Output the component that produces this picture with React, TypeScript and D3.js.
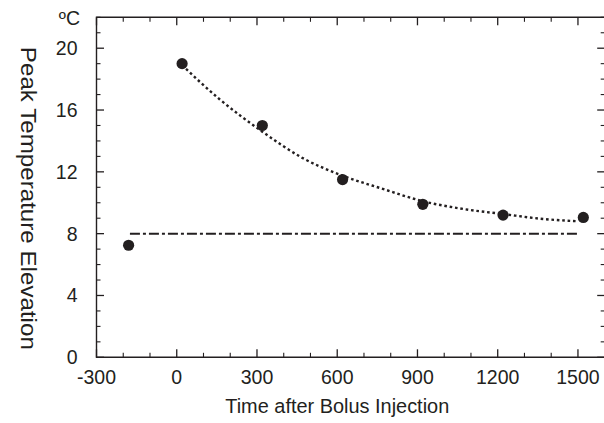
import React from "react";
import * as d3 from "d3";

const times = [-180, 20, 320, 620, 920, 1220, 1520];
const temps = [7.25, 19.0, 15.0, 11.5, 9.9, 9.2, 9.05];

const fitTimes = [20, 160, 320, 470, 620, 770, 920, 1070, 1220, 1370, 1500];
const fitTemps = [18.9, 16.7, 14.6, 12.9, 11.75, 10.9, 10.1, 9.6, 9.27, 8.95, 8.8];

const baselineTimes = [-175, 1500];
const baselineTemps = [8, 8];

const xTickValues = [-300, 0, 300, 600, 900, 1200, 1500];
const yTickValues = [0, 4, 8, 12, 16, 20];

const W = 604;
const H = 423;
const FONT = "'Liberation Sans', Arial, sans-serif";
const INK = "#231f20";

export default function App() {
  const x = d3.scaleLinear().domain([-300, 1600]).range([96.5, 604.7]);
  const y = d3.scaleLinear().domain([0, 22]).range([357.3, 17.3]);

  const xMinor = d3.range(-300, 1601, 100).filter((v) => !xTickValues.includes(v));
  const yMinor = d3.range(0, 23, 1).filter((v) => v % 4 !== 0);
  const yMajor = d3.range(0, 23, 4);

  const line = d3
    .line<number>()
    .x((_, i) => x(fitTimes[i]))
    .y((d) => y(d))
    .curve(d3.curveMonotoneX);

  const baseLine = d3
    .line<number>()
    .x((_, i) => x(baselineTimes[i]))
    .y((d) => y(d));

  const x0 = x.range()[0];
  const x1 = x.range()[1];
  const y0 = y.range()[0];
  const y1 = y.range()[1];

  return (
    <svg
      width={W}
      height={H}
      style={{ position: "absolute", left: 0, top: 0, background: "#fff" }}
    >
      {/* frame */}
      <path
        d={`M${x1 + 2},${y1}H${x0}V${y0}H${x1 + 2}`}
        fill="none"
        stroke={INK}
        strokeWidth={1.4}
      />

      {/* x ticks */}
      {xTickValues.map((v) => (
        <g key={"xt" + v}>
          <line x1={x(v)} x2={x(v)} y1={y0} y2={y0 - 8} stroke={INK} strokeWidth={1.3} />
          <line x1={x(v)} x2={x(v)} y1={y1} y2={y1 + 8} stroke={INK} strokeWidth={1.3} />
          <text x={x(v)} y={384} textAnchor="middle" fontSize={19.5} fontFamily={FONT} fill={INK}>
            {v}
          </text>
        </g>
      ))}
      {xMinor.map((v) => (
        <g key={"xm" + v}>
          <line x1={x(v)} x2={x(v)} y1={y0} y2={y0 - 4.5} stroke={INK} strokeWidth={1.1} />
          <line x1={x(v)} x2={x(v)} y1={y1} y2={y1 + 4.5} stroke={INK} strokeWidth={1.1} />
        </g>
      ))}

      {/* y ticks */}
      {yMajor.map((v) => (
        <g key={"yt" + v}>
          <line x1={x0} x2={x0 + 7.5} y1={y(v)} y2={y(v)} stroke={INK} strokeWidth={1.3} />
          <line x1={x1} x2={x1 - 7.5} y1={y(v)} y2={y(v)} stroke={INK} strokeWidth={1.3} />
        </g>
      ))}
      {yMinor.map((v) => (
        <g key={"ym" + v}>
          <line x1={x0} x2={x0 + 4} y1={y(v)} y2={y(v)} stroke={INK} strokeWidth={1.1} />
          <line x1={x1} x2={x1 - 4} y1={y(v)} y2={y(v)} stroke={INK} strokeWidth={1.1} />
        </g>
      ))}
      {yTickValues.map((v) => (
        <text
          key={"yl" + v}
          x={77.5}
          y={y(v) + 7}
          textAnchor="end"
          fontSize={19.5}
          fontFamily={FONT}
          fill={INK}
        >
          {v}
        </text>
      ))}

      {/* unit */}
      <text x={80} y={25} textAnchor="end" fontSize={19.5} fontFamily={FONT} fill={INK}>
        ºC
      </text>

      {/* axis titles */}
      <text
        x={(x0 + 578) / 2}
        y={412.5}
        textAnchor="middle"
        fontSize={20.5}
        fontFamily={FONT}
        fill={INK}
        textLength={224}
        lengthAdjust="spacingAndGlyphs"
      >
        Time after Bolus Injection
      </text>
      <text
        transform={`translate(20.5,${(46.7 + 350) / 2}) rotate(90)`}
        textAnchor="middle"
        fontSize={21.5}
        fontFamily={FONT}
        fill={INK}
        textLength={303}
        lengthAdjust="spacingAndGlyphs"
      >
        Peak Temperature Elevation
      </text>

      {/* baseline dash-dot */}
      <path
        d={baseLine(baselineTemps) || ""}
        fill="none"
        stroke={INK}
        strokeWidth={2}
        strokeDasharray="10 3 3 3"
      />

      {/* fitted dotted curve */}
      <path
        d={line(fitTemps) || ""}
        fill="none"
        stroke={INK}
        strokeWidth={2.4}
        strokeDasharray="2.6 2.8"
      />

      {/* points */}
      {temps.map((v, i) => (
        <circle key={"p" + i} cx={x(times[i])} cy={y(v)} r={5.6} fill={INK} />
      ))}
    </svg>
  );
}
